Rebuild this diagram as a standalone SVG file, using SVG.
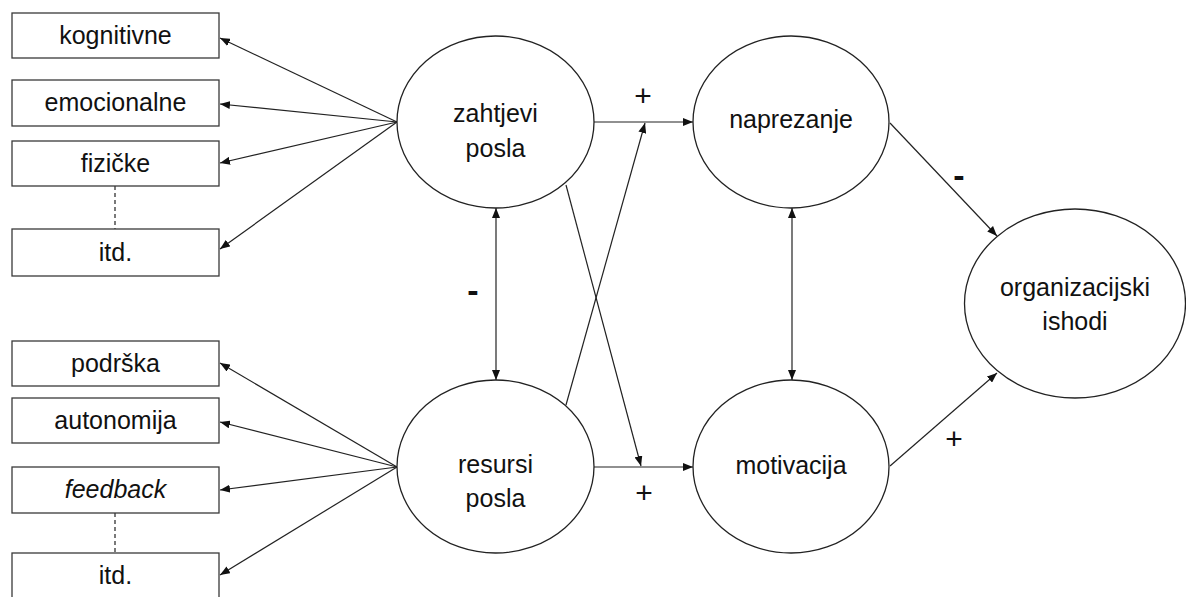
<svg xmlns="http://www.w3.org/2000/svg" width="1186" height="597" viewBox="0 0 1186 597">
<style>
.box{fill:#fff;stroke:#3a3a3a;stroke-width:1.3}
.ell{fill:#fff;stroke:#222;stroke-width:1.3}
.t{font-family:"Liberation Sans",Arial,sans-serif;font-size:25px;fill:#111;text-anchor:middle}
.con line{stroke:#222;stroke-width:1.2;fill:none}
.dash{stroke:#555;stroke-width:1.2;stroke-dasharray:4,3}
.sign{font-family:"Liberation Sans",Arial,sans-serif;font-size:30px;fill:#111;text-anchor:middle}
.minus{font-family:"Liberation Sans",Arial,sans-serif;font-size:34px;font-weight:bold;fill:#111;text-anchor:middle}
</style>
<defs>
<marker id="ah" viewBox="0 0 10 8" refX="10" refY="4" markerWidth="10" markerHeight="8" markerUnits="userSpaceOnUse" orient="auto-start-reverse">
<path d="M0,0 L10,4 L0,8 z" fill="#111"/>
</marker>
</defs>
<rect width="1186" height="597" fill="#fff"/>

<g id="connectors" class="con">
<line x1="397" y1="122" x2="220" y2="38" marker-end="url(#ah)"/>
<line x1="397" y1="122" x2="220" y2="104" marker-end="url(#ah)"/>
<line x1="397" y1="122" x2="220" y2="163" marker-end="url(#ah)"/>
<line x1="397" y1="122" x2="220" y2="249" marker-end="url(#ah)"/>
<line x1="397" y1="467" x2="220" y2="363" marker-end="url(#ah)"/>
<line x1="397" y1="467" x2="220" y2="422" marker-end="url(#ah)"/>
<line x1="397" y1="467" x2="220" y2="490" marker-end="url(#ah)"/>
<line x1="397" y1="467" x2="220" y2="575" marker-end="url(#ah)"/>
<line x1="594" y1="122" x2="693" y2="122" marker-end="url(#ah)"/>
<line x1="594" y1="467" x2="693" y2="467" marker-end="url(#ah)"/>
<line x1="566" y1="405" x2="645" y2="123" marker-end="url(#ah)"/>
<line x1="566" y1="185" x2="641" y2="466" marker-end="url(#ah)"/>
<line x1="496" y1="208" x2="496" y2="380" marker-start="url(#ah)" marker-end="url(#ah)"/>
<line x1="792" y1="208" x2="792" y2="380" marker-start="url(#ah)" marker-end="url(#ah)"/>
<line x1="890" y1="123" x2="997" y2="236" marker-end="url(#ah)"/>
<line x1="890" y1="466" x2="997" y2="373" marker-end="url(#ah)"/>
<line class="dash" x1="115" y1="186" x2="115" y2="229"/>
<line class="dash" x1="115" y1="513" x2="115" y2="553"/>
</g>

<g id="kognitivne"><rect class="box" x="12" y="13" width="207" height="45"/><text class="t" x="115.5" y="44">kognitivne</text></g>
<g id="emocionalne"><rect class="box" x="12" y="80" width="207" height="46"/><text class="t" x="115.5" y="111">emocionalne</text></g>
<g id="fizicke"><rect class="box" x="12" y="141" width="207" height="45"/><text class="t" x="115.5" y="172">fizičke</text></g>
<g id="itd1"><rect class="box" x="12" y="229" width="207" height="47"/><text class="t" x="115.5" y="261">itd.</text></g>
<g id="podrska"><rect class="box" x="12" y="341" width="207" height="45"/><text class="t" x="115.5" y="372">podrška</text></g>
<g id="autonomija"><rect class="box" x="12" y="398" width="207" height="45"/><text class="t" x="115.5" y="429">autonomija</text></g>
<g id="feedback"><rect class="box" x="12" y="467" width="207" height="46"/><text class="t" x="115.5" y="498" font-style="italic">feedback</text></g>
<g id="itd2"><rect class="box" x="12" y="553" width="207" height="50"/><text class="t" x="115.5" y="584">itd.</text></g>

<g id="zahtjevi"><ellipse class="ell" cx="495.5" cy="122" rx="98.5" ry="86"/><text class="t" x="495.5" y="122">zahtjevi</text><text class="t" x="495.5" y="157">posla</text></g>
<g id="resursi"><ellipse class="ell" cx="495.5" cy="466.5" rx="98.5" ry="86.5"/><text class="t" x="495.5" y="473">resursi</text><text class="t" x="495.5" y="507">posla</text></g>
<g id="naprezanje"><ellipse class="ell" cx="791" cy="122" rx="98" ry="86"/><text class="t" x="791" y="128">naprezanje</text></g>
<g id="motivacija"><ellipse class="ell" cx="791" cy="466.5" rx="98" ry="86.5"/><text class="t" x="791" y="474">motivacija</text></g>
<g id="ishodi"><ellipse class="ell" cx="1075" cy="303.5" rx="110.5" ry="94.5"/><text class="t" x="1075" y="296">organizacijski</text><text class="t" x="1075" y="330">ishodi</text></g>

<g id="labels">
<text class="sign" x="643" y="106">+</text>
<text class="sign" x="644" y="503">+</text>
<text class="sign" x="954" y="449">+</text>
<text class="minus" x="473" y="302">-</text>
<text class="minus" x="959" y="187">-</text>
</g>
</svg>
